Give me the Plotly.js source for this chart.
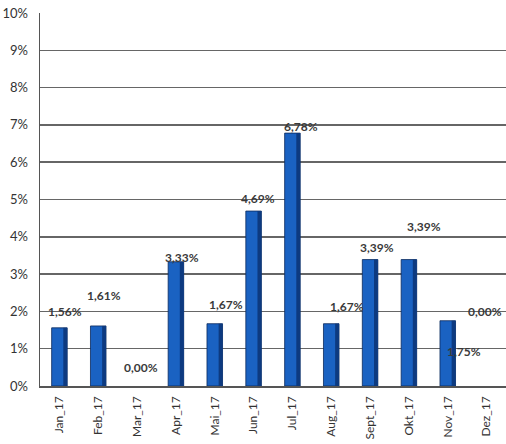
<!DOCTYPE html>
<html>
<head>
<meta charset="utf-8">
<script src="https://cdn.plot.ly/plotly-3.0.1.min.js"></script>
<style>html,body{margin:0;padding:0;background:#fff;}#chart{width:506px;height:444px;}</style>
</head>
<body>
<div id="chart"></div>
<script>
var categories = ["Jan_17","Feb_17","Mar_17","Apr_17","Mai_17","Jun_17","Jul_17","Aug_17","Sept_17","Okt_17","Nov_17","Dez_17"];
var values = [1.56, 1.61, 0.00, 3.33, 1.67, 4.69, 6.78, 1.67, 3.39, 3.39, 1.75, 0.00];
var labels = ["1,56%","1,61%","0,00%","3,33%","1,67%","4,69%","6,78%","1,67%","3,39%","3,39%","1,75%","0,00%"];
var yTickVals = [0,1,2,3,4,5,6,7,8,9,10];
var yTickText = ["0%","1%","2%","3%","4%","5%","6%","7%","8%","9%","10%"];

// label pixel offsets (styling: how the original's labels sit relative to bar tops)
var labelDx = [6, 6, 4, 6, 11, 4, 9, 16, 7, 15, 16, -2];
var labelDy = [16, 30, 19, 4, 19, 13, 7, 17, 12, 33, -31, 75];

var lineWidths = values.map(function(v){ return v > 0 ? 0.8 : 0; });

var bars = {
  type: 'bar',
  x: categories,
  y: values,
  width: 0.4,
  offset: -0.2,
  marker: {color: '#1a62c2', line: {color: '#0b2a5c', width: lineWidths}},
  hoverinfo: 'skip'
};
// darker right-hand edge, imitating the original's 3-D shading
var shade = {
  type: 'bar',
  x: categories,
  y: values,
  width: 0.1,
  offset: 0.1,
  marker: {color: '#0d3a80', line: {width: 0}},
  hoverinfo: 'skip'
};

var annotations = categories.map(function(c, i){
  return {
    x: c, y: values[i], xref: 'x', yref: 'y',
    text: labels[i], showarrow: false,
    xanchor: 'center', yanchor: 'middle',
    xshift: labelDx[i], yshift: labelDy[i],
    font: {family: 'Lato, sans-serif', size: 12, color: '#3a3a3a', weight: 'bold'}
  };
});

var layout = {
  width: 506, height: 444,
  margin: {l: 40, r: 0, t: 13, b: 58},
  paper_bgcolor: '#fff', plot_bgcolor: '#fff',
  showlegend: false,
  barmode: 'overlay',
  xaxis: {
    type: 'category', range: [-0.5, 11.5],
    tickangle: -90,
    tickfont: {family: 'Lato, sans-serif', size: 12, color: '#333'},
    ticklabelstandoff: 4,
    showgrid: false, showline: true, linecolor: '#555', linewidth: 1.5,
    ticks: '', fixedrange: true
  },
  yaxis: {
    range: [0, 10],
    tickvals: yTickVals, ticktext: yTickText,
    tickfont: {family: 'Lato, sans-serif', size: 13, color: '#333'},
    ticklabelstandoff: 8,
    showgrid: true, gridcolor: '#666', gridwidth: 1.5,
    showline: true, linecolor: '#555', linewidth: 1.5,
    zeroline: false, ticks: '', fixedrange: true
  },
  annotations: annotations
};

Plotly.newPlot('chart', [bars, shade], layout, {displayModeBar: false, staticPlot: true});
</script>
</body>
</html>
